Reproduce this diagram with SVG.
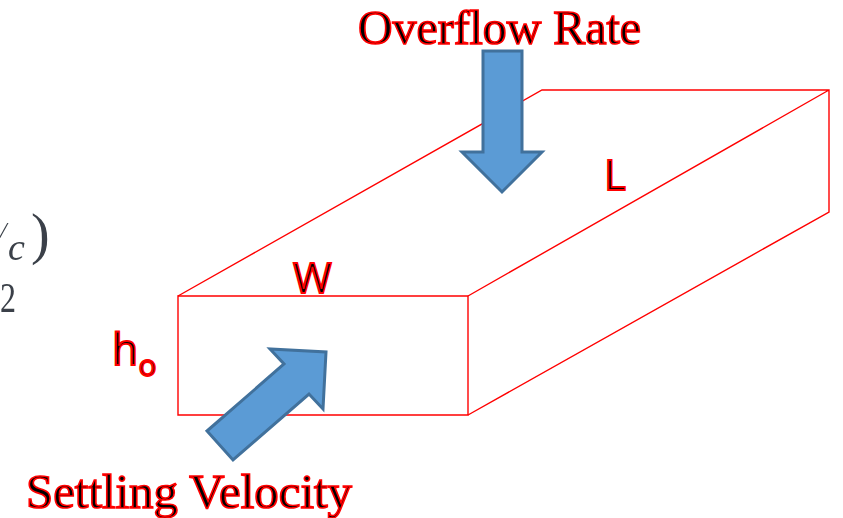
<svg xmlns="http://www.w3.org/2000/svg" width="843" height="518" viewBox="0 0 843 518">
<defs><filter id="soft" x="-30%" y="-30%" width="160%" height="160%"><feGaussianBlur stdDeviation="0.7"/></filter></defs>
<style>
.edge{fill:none;stroke:#ff0000;stroke-width:1.4}
.arrow{fill:#5b9bd5;stroke:#41719c;stroke-width:3}
.serif{font-family:"Liberation Serif",serif;font-size:49px;fill:#000;stroke:#ff0000;stroke-width:1.7}
.sans{font-family:"Open Sans","Liberation Sans",sans-serif;fill:#000;stroke:#ff0000;stroke-width:1.8}
.math{font-family:"Liberation Serif",serif;fill:#3a4048;filter:url(#soft)}
</style>
<g id="fragment">
<text class="math" x="0" y="238" font-size="24" font-style="italic">/</text>
<text class="math" x="8" y="260" font-size="38" font-style="italic">c</text>
<text class="math" x="31" y="253" font-size="56">)</text>
<text class="math" x="0" y="312" font-size="42" textLength="16" lengthAdjust="spacingAndGlyphs">2</text>
</g>
<g id="connectors">
<path class="edge" d="M178 296H468V415H178Z"/>
<path class="edge" d="M178 296L542 90H829V212L468 415M468 296L829 90"/>
</g>
<g id="overflow-arrow">
<path class="arrow" d="M483 51H522V152H542L502 192L462 152H483Z"/>
</g>
<g id="settling-arrow">
<path class="arrow" d="M207 431L284 364L270 349L326 352L323 409L309 394L233 460Z"/>
</g>
<g id="label-overflow"><text class="serif" x="358" y="44" textLength="283" lengthAdjust="spacingAndGlyphs">Overflow Rate</text></g>
<g id="label-settling"><text class="serif" x="26" y="508" textLength="326" lengthAdjust="spacingAndGlyphs">Settling Velocity</text></g>
<g id="label-w"><text class="sans" x="293" y="293" font-size="42">W</text></g>
<g id="label-l"><text class="sans" x="604" y="190" font-size="42">L</text></g>
<g id="label-h"><text class="sans" x="112" y="365" font-size="43">h<tspan font-size="30" dy="11">o</tspan></text></g>
</svg>
